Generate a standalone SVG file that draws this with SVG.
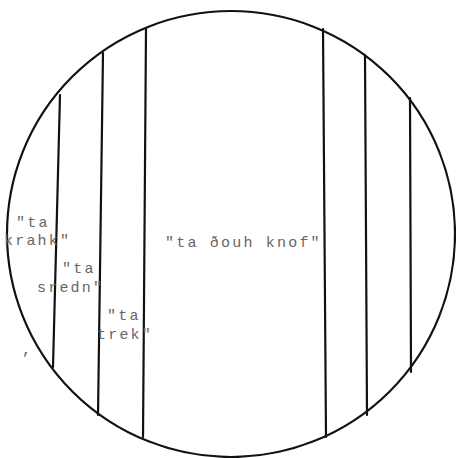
<svg xmlns="http://www.w3.org/2000/svg" width="456" height="458" viewBox="0 0 456 458">
<style>
.ln{fill:none;stroke:#111;stroke-width:2.2;stroke-linecap:round}
.t{font-family:"Liberation Mono","Courier New",monospace;font-size:15px;letter-spacing:2.2px;fill:#666}
</style>
<rect width="456" height="458" fill="#fff"/>
<g id="disc">
<ellipse class="ln" cx="231" cy="234" rx="224" ry="223"/>
</g>
<g id="stripes">
<path class="ln" d="M60 95 L53 367"/>
<path class="ln" d="M103 53 L98 415"/>
<path class="ln" d="M146 29 L143 437"/>
<path class="ln" d="M323 29 L326 437"/>
<path class="ln" d="M365 55 L367 415"/>
<path class="ln" d="M410 98 L411 372"/>
</g>
<g id="labels">
<text class="t" x="16" y="227">"ta</text>
<text class="t" x="4" y="245">krahk"</text>
<text class="t" x="62" y="273">"ta</text>
<text class="t" x="37" y="292">sredn"</text>
<text class="t" x="107" y="320">"ta</text>
<text class="t" x="97" y="339">trek"</text>
<text class="t" x="165" y="247">"ta ðouh knof"</text>
<text class="t" x="22" y="354">,</text>
</g>
</svg>
